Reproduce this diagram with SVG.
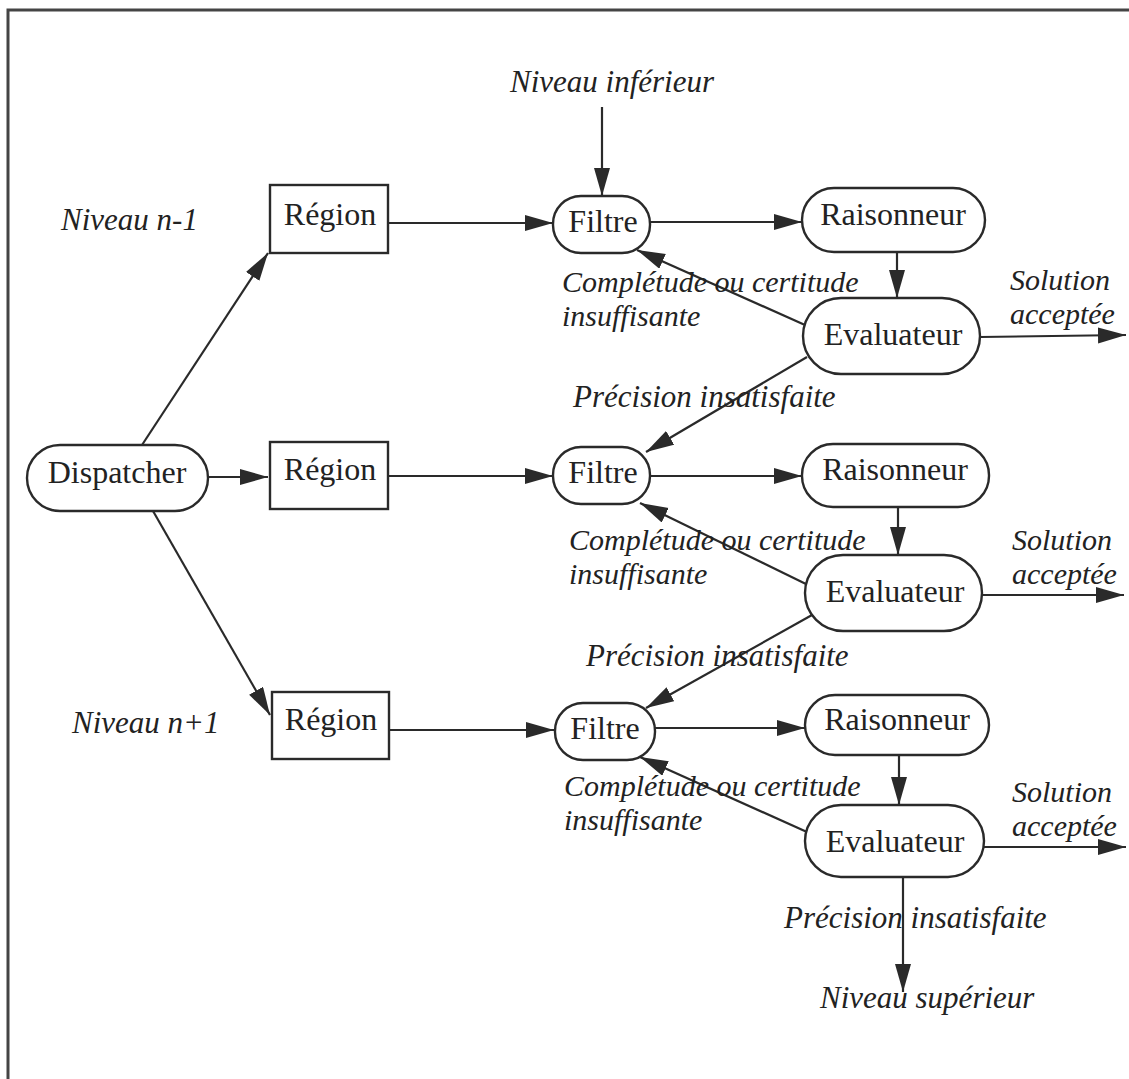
<svg xmlns="http://www.w3.org/2000/svg" width="1129" height="1079" viewBox="0 0 1129 1079">
<defs>
<marker id="ah" markerUnits="userSpaceOnUse" markerWidth="30" markerHeight="18" refX="28" refY="8" orient="auto">
<path d="M0,0 L28,8 L0,16 Z" fill="#2a2a2a"/>
</marker>
<style>
.box{fill:#fff;stroke:#2a2a2a;stroke-width:2.4}
.t{font-family:"Liberation Serif","Times New Roman",serif;font-size:32px;fill:#222;text-anchor:middle}
.i{font-family:"Liberation Serif","Times New Roman",serif;font-size:31px;font-style:italic;fill:#222}
.i2{font-family:"Liberation Serif","Times New Roman",serif;font-size:30px;font-style:italic;fill:#222}
.c{stroke:#2a2a2a;stroke-width:2.2;fill:none;marker-end:url(#ah)}
.fr{stroke:#444;stroke-width:3;fill:none}
</style>
</defs>
<rect width="1129" height="1079" fill="#fff"/>
<path class="fr" d="M1129,10 L8,10 L8,1079"/>

<g id="connectors">
<line class="c" x1="602" y1="107" x2="602" y2="196"/>
<line class="c" x1="388" y1="223" x2="553" y2="223"/>
<line class="c" x1="650" y1="222" x2="802" y2="222"/>
<line class="c" x1="897" y1="252" x2="897" y2="298"/>
<line class="c" x1="805" y1="325" x2="637" y2="250"/>
<line class="c" x1="980" y1="337" x2="1126" y2="335"/>
<line class="c" x1="807" y1="357" x2="646" y2="452"/>
<line class="c" x1="142" y1="445" x2="268" y2="253"/>
<line class="c" x1="208" y1="477" x2="268" y2="477"/>
<line class="c" x1="153" y1="511" x2="270" y2="715"/>
<line class="c" x1="388" y1="476" x2="553" y2="476"/>
<line class="c" x1="650" y1="476" x2="802" y2="476"/>
<line class="c" x1="898" y1="507" x2="898" y2="555"/>
<line class="c" x1="808" y1="585" x2="640" y2="503"/>
<line class="c" x1="982" y1="595" x2="1124" y2="595"/>
<line class="c" x1="812" y1="615" x2="646" y2="708"/>
<line class="c" x1="389" y1="730" x2="554" y2="730"/>
<line class="c" x1="655" y1="728" x2="805" y2="728"/>
<line class="c" x1="899" y1="755" x2="899" y2="805"/>
<line class="c" x1="807" y1="832" x2="640" y2="757"/>
<line class="c" x1="984" y1="847" x2="1126" y2="847"/>
<line class="c" x1="903" y1="877" x2="903" y2="992"/>
</g>

<g id="labels">
<text class="i" x="510" y="92">Niveau inférieur</text>
<text class="i" x="61" y="230">Niveau n-1</text>
<text class="i" x="72" y="733">Niveau n+1</text>
<text class="i2" x="562" y="292">Complétude ou certitude</text>
<text class="i2" x="562" y="325.5">insuffisante</text>
<text class="i2" x="1010" y="290">Solution</text>
<text class="i2" x="1010" y="323.5">acceptée</text>
<text class="i" x="573" y="407">Précision insatisfaite</text>
<text class="i2" x="569" y="550">Complétude ou certitude</text>
<text class="i2" x="569" y="583.5">insuffisante</text>
<text class="i2" x="1012" y="550">Solution</text>
<text class="i2" x="1012" y="583.5">acceptée</text>
<text class="i" x="586" y="666">Précision insatisfaite</text>
<text class="i2" x="564" y="796">Complétude ou certitude</text>
<text class="i2" x="564" y="829.5">insuffisante</text>
<text class="i2" x="1012" y="802">Solution</text>
<text class="i2" x="1012" y="835.5">acceptée</text>
<text class="i" x="784" y="928">Précision insatisfaite</text>
<text class="i" x="820" y="1008">Niveau supérieur</text>
</g>

<g id="dispatcher">
<rect class="box" x="27" y="445" width="181" height="66" rx="33"/>
<text class="t" x="117" y="483">Dispatcher</text>
</g>

<g id="region1"><rect class="box" x="270" y="185" width="118" height="68"/><text class="t" x="330" y="225">Région</text></g>
<g id="region2"><rect class="box" x="270" y="442" width="118" height="67"/><text class="t" x="330" y="480">Région</text></g>
<g id="region3"><rect class="box" x="272" y="692" width="117" height="67"/><text class="t" x="331" y="730">Région</text></g>

<g id="filtre1"><rect class="box" x="553" y="196" width="97" height="57" rx="28"/><text class="t" x="603" y="232">Filtre</text></g>
<g id="filtre2"><rect class="box" x="553" y="447" width="97" height="57" rx="28"/><text class="t" x="603" y="483">Filtre</text></g>
<g id="filtre3"><rect class="box" x="555" y="703" width="100" height="57" rx="28"/><text class="t" x="605" y="739">Filtre</text></g>

<g id="raisonneur1"><rect class="box" x="802" y="188" width="183" height="64" rx="32"/><text class="t" x="893" y="225">Raisonneur</text></g>
<g id="raisonneur2"><rect class="box" x="802" y="444" width="187" height="63" rx="31"/><text class="t" x="895" y="480">Raisonneur</text></g>
<g id="raisonneur3"><rect class="box" x="805" y="695" width="184" height="60" rx="30"/><text class="t" x="897" y="730">Raisonneur</text></g>

<g id="evaluateur1"><rect class="box" x="803" y="298" width="177" height="76" rx="38"/><text class="t" x="893" y="345">Evaluateur</text></g>
<g id="evaluateur2"><rect class="box" x="805" y="555" width="177" height="76" rx="38"/><text class="t" x="895" y="602">Evaluateur</text></g>
<g id="evaluateur3"><rect class="box" x="805" y="805" width="179" height="72" rx="36"/><text class="t" x="895" y="852">Evaluateur</text></g>
</svg>
